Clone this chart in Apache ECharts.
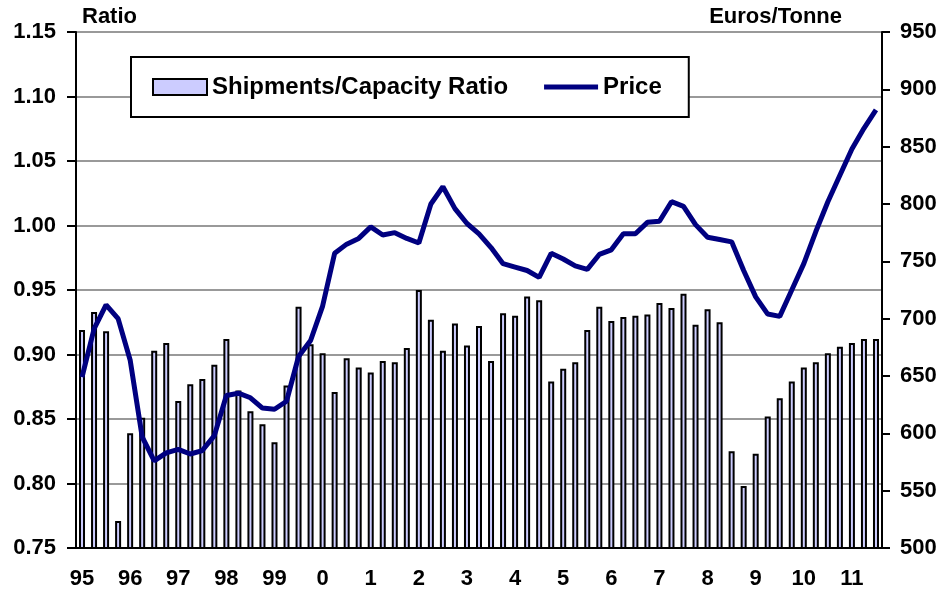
<!DOCTYPE html>
<html>
<head>
<meta charset="utf-8">
<script src="https://cdn.jsdelivr.net/npm/echarts@6/dist/echarts.min.js"></script>
<style>
  html, body { margin: 0; padding: 0; background: #fff; }
  #chart { width: 943px; height: 597px; }
</style>
</head>
<body>
<div id="chart"></div>
<script>
// year labels shown under the first quarter of each year
const years = ['95', '96', '97', '98', '99', '0', '1', '2', '3', '4', '5', '6', '7', '8', '9', '10', '11']
// 1995 Q1 .. 2011 Q3
const quarters = []
years.forEach(y => {
  for (let q = 1; q <= 4; q++) quarters.push(y + ' Q' + q)
})
quarters.length = 67

// shipments/capacity ratio (left axis)
const ratio = [
  0.919, 0.933, 0.918, 0.771, 0.839, 0.851, 0.903, 0.909,
  0.864, 0.877, 0.881, 0.892, 0.912, 0.872, 0.856, 0.846,
  0.832, 0.876, 0.937, 0.908, 0.901, 0.871, 0.897, 0.890,
  0.886, 0.895, 0.894, 0.905, 0.950, 0.927, 0.903, 0.924,
  0.907, 0.922, 0.895, 0.932, 0.930, 0.945, 0.942, 0.879,
  0.889, 0.894, 0.919, 0.937, 0.926, 0.929, 0.930, 0.931,
  0.940, 0.936, 0.947, 0.923, 0.935, 0.925, 0.825, 0.798,
  0.823, 0.852, 0.866, 0.879, 0.890, 0.894, 0.901, 0.906,
  0.909, 0.912, 0.912
]

// price, euros/tonne (right axis)
const price = [
  649, 691, 712, 700, 664, 597, 576, 583,
  586, 582, 585, 598, 633, 635, 631, 622,
  621, 628, 667, 681, 711, 757, 765, 770,
  780, 773, 775, 770, 766, 800, 815, 796,
  783, 774, 762, 748, 745, 742, 736, 757,
  752, 746, 743, 756, 760, 774, 774, 784,
  785, 802, 798, 782, 771, 769, 767, 742,
  719, 704, 702, 725, 748, 776, 802, 825,
  848, 866, 882
]

const font = 'Arial, "Liberation Sans", sans-serif'
const chart = echarts.init(document.getElementById('chart'))
chart.setOption({
  animation: false,
  textStyle: { fontFamily: font, fontWeight: 'bold', color: '#000' },
  grid: {
    left: 76,
    right: 61,
    top: 32,
    bottom: 49,
    show: true,
    borderColor: '#000',
    borderWidth: 2
  },
  legend: {
    left: 131,
    top: 57,
    orient: 'horizontal',
    backgroundColor: '#fff',
    borderColor: '#000',
    borderWidth: 2,
    padding: [18, 27, 18, 21],
    itemWidth: 54,
    itemHeight: 16,
    itemGap: 36,
    textStyle: { fontFamily: font, fontWeight: 'bold', fontSize: 24, color: '#000' },
    data: [
      { name: 'Shipments/Capacity Ratio', icon: 'rect' },
      { name: 'Price', icon: 'path://M0,0 L54,0 L54,5 L0,5 Z', itemStyle: { color: '#000080', borderWidth: 0 } }
    ]
  },
  xAxis: [{
    type: 'category',
    data: quarters,
    position: 'bottom',
    axisLine: { lineStyle: { color: '#000', width: 2 } },
    axisTick: { interval: 0, length: 8, lineStyle: { color: '#000', width: 2 } },
    axisLabel: {
      interval: 3,
      margin: 20,
      fontSize: 22,
      fontWeight: 'bold',
      color: '#000',
      formatter: v => v.split(' ')[0]
    }
  }, {
    // ticks that cross into the plot
    type: 'category',
    data: quarters,
    position: 'bottom',
    axisLine: { show: false },
    axisTick: { interval: 0, inside: true, length: 7, lineStyle: { color: '#000', width: 2 } },
    axisLabel: { show: false }
  }],
  yAxis: [{
    type: 'value',
    min: 0.75,
    max: 1.15,
    interval: 0.05,
    name: 'Ratio',
    nameLocation: 'end',
    nameGap: 4,
    nameTextStyle: { align: 'left', verticalAlign: 'bottom', fontSize: 22, fontWeight: 'bold', color: '#000', padding: [0, 0, 0, 6] },
    axisLine: { show: true, lineStyle: { color: '#000', width: 2 } },
    axisTick: { show: true, length: 9, lineStyle: { color: '#000', width: 2 } },
    axisLabel: { margin: 20, fontSize: 22, fontWeight: 'bold', color: '#000', formatter: v => v.toFixed(2) },
    splitLine: { lineStyle: { color: '#999', width: 2 } }
  }, {
    type: 'value',
    min: 500,
    max: 950,
    interval: 50,
    name: 'Euros/Tonne',
    nameLocation: 'end',
    nameGap: 4,
    nameTextStyle: { align: 'right', verticalAlign: 'bottom', fontSize: 22, fontWeight: 'bold', color: '#000', padding: [0, 40, 0, 0] },
    axisLine: { show: true, lineStyle: { color: '#000', width: 2 } },
    axisTick: { show: true, length: 8, lineStyle: { color: '#000', width: 2 } },
    axisLabel: { margin: 18, fontSize: 22, fontWeight: 'bold', color: '#000' },
    splitLine: { show: false }
  }],
  series: [{
    name: 'Shipments/Capacity Ratio',
    type: 'bar',
    xAxisIndex: 0,
    yAxisIndex: 0,
    barWidth: 6,
    itemStyle: { color: '#CCCCFF', borderColor: '#000', borderWidth: 2 },
    data: ratio
  }, {
    name: 'Price',
    type: 'line',
    xAxisIndex: 0,
    yAxisIndex: 1,
    symbol: 'none',
    lineStyle: { color: '#000080', width: 5 },
    itemStyle: { color: '#000080' },
    data: price
  }]
})
</script>
</body>
</html>
